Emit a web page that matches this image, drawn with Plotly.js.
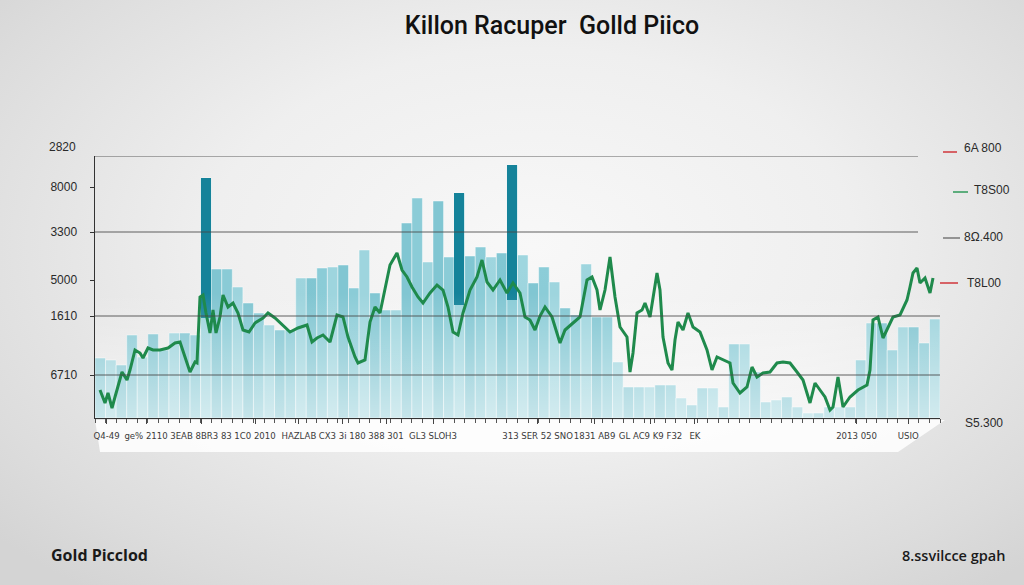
<!DOCTYPE html>
<html>
<head>
<meta charset="utf-8">
<script src="https://cdn.plot.ly/plotly-3.0.1.min.js"></script>
<style>
html,body{margin:0;padding:0;width:1024px;height:585px;overflow:hidden;
background:radial-gradient(ellipse 70% 75% at 52% 42%, #f8f8f8 0%, #efefef 45%, #dcdcdc 85%, #d4d4d4 100%);}
#chart{width:1024px;height:585px;}
</style>
</head>
<body>
<div id="chart"></div>
<script>
// ---- data ----
const barValues = [60,58,53,83,61,84,68,85,85,83,
  240,149,149,131,115,105,93,88,88,140,
  140,150,151,153,130,168,125,108,108,195,
  220,156,217,161,225,162,171,161,165,253,
  163,135,151,136,110,103,154,101,101,56,
  31,31,31,33,33,20,13,30,30,11,
  74,74,46,16,18,21,11,5,5,11,
  11,11,58,95,95,68,91,91,75,99];
const darkIdx  = [10, 34, 39];
const darkTop  = [240, 225, 253];
const darkBase = [100, 113, 118];

const lineDay = [5,10,13,17,20,27,32,35,40,45,48,53,58,65,73,80,85,90,95,100,102,105,108,111,115,118,121,125,128,133,138,143,148,154,160,168,173,180,187,195,203,212,217,222,228,235,242,248,253,260,263,270,275,280,285,290,295,302,307,312,317,323,328,335,342,348,353,358,363,368,375,382,387,392,398,405,412,418,425,430,435,440,445,450,457,465,470,478,485,492,497,502,505,510,515,520,525,532,535,538,542,547,550,555,562,565,568,573,577,580,583,588,593,598,605,612,617,622,628,635,638,645,652,657,662,668,675,682,688,695,702,708,715,720,725,730,735,738,743,748,755,763,772,775,778,783,788,793,798,805,812,815,818,822,825,830,835,838];
const linePrice = [28,15,25,10,21,46,38,48,68,65,60,70,68,68,70,75,76,61,46,56,55,121,123,105,85,108,85,101,123,111,115,105,88,86,95,100,105,100,93,86,90,93,76,80,83,76,103,101,81,61,55,58,96,111,105,128,153,165,148,141,131,121,115,125,133,128,111,86,83,105,128,141,158,136,128,138,125,135,125,101,98,88,102,111,101,75,88,95,101,138,141,128,108,128,161,121,91,81,46,65,105,108,115,101,145,128,81,55,48,78,96,88,105,91,86,68,48,61,58,55,35,25,31,51,41,45,46,55,56,55,46,38,15,35,28,21,8,11,41,11,21,28,33,48,98,101,80,91,101,103,118,131,145,150,135,140,125,140];

const yTickVals  = [231,186,138,102,43];
const yTickText  = ["8000","3300","5000","1610","6710"];
const yTopLabel  = "2820";
const gridVals   = [262,186,102,43];

const xTickVals = [0.6,4.33,9.54,14.65,18.8,22.9,27.05,31.5,41.4,46.8,52.1,56.3,71.6,76.5];
const xTickText = ["Q4-49","ge% 2110","3EAB 8BR3 83","1C0 2010","HAZLAB","CX3 3i 180","388 301","GL3 SLOH3","313 SER 52 SNO","1831 AB9","GL AC9 K9 F32","EK","2013 050","USIO"];

const rightLabels = ["6A 800","T8S00","8\u03A9.400","T8L00","S5.300"];

const titleText = "Killon Racuper  Golld Piico";
const footLeft  = "Gold Picclod";
const footRight = "8.ssvilcce gpah";

// ---- build ----
const N = barValues.length;
const idx = barValues.map((_, i) => i);
const barColors = idx.map(i => (i % 3 === 0) ? 'rgba(112,194,207,0.8)' : (i % 3 === 1 ? 'rgba(136,205,216,0.8)' : 'rgba(100,186,201,0.8)'));

const darkH = darkTop.map((t, k) => t - darkBase[k]);

const traces = [
  {type:'bar', x: idx, y: barValues, marker:{color: barColors, line:{color:'rgba(255,255,255,0.45)', width:1}}, hoverinfo:'skip', showlegend:false},
  {type:'bar', x: darkIdx, y: darkH, base: darkBase, width: 0.95, marker:{color:'#15839a', line:{width:0}}, hoverinfo:'skip', showlegend:false},
  {type:'scatter', mode:'lines', x:[-0.5, N-0.5], y:[125,125], fill:'tozeroy', line:{width:0},
   fillgradient:{type:'vertical', colorscale:[[0,'rgba(255,255,255,0.55)'],[1,'rgba(255,255,255,0)']], start:0, stop:125},
   hoverinfo:'skip', showlegend:false},
  {type:'scatter', mode:'lines', x: lineDay, y: linePrice, xaxis:'x2', line:{color:'#1f8a4c', width:3, shape:'linear'}, hoverinfo:'skip', showlegend:false}
];

const L = 95, R = 940, T = 156, B = 418;
const W = R - L, H = B - T;
const px = x => (x - L) / W;
const py = y => (B - y) / H;

const annotations = [
  {text: yTopLabel, xref:'paper', yref:'paper', x: px(78), y: py(147), xanchor:'right', yanchor:'middle', showarrow:false, font:{family:'Liberation Sans', size:12, color:'#2a2a2a'}},
  {text: footLeft, xref:'paper', yref:'paper', x: px(49), y: py(555), xanchor:'left', yanchor:'middle', showarrow:false, font:{family:'Open Sans', size:16, color:'#1a1a1a', weight:700}},
  {text: footRight, xref:'paper', yref:'paper', x: px(1007), y: py(555), xanchor:'right', yanchor:'middle', showarrow:false, font:{family:'Open Sans', size:14.5, color:'#1a1a1a', weight:600}}
];
const rightPos = [[962,148],[972,190],[962,237],[965,283],[963,423]];
rightLabels.forEach((t, k) => {
  annotations.push({text:t, xref:'paper', yref:'paper', x: px(rightPos[k][0]), y: py(rightPos[k][1]), xanchor:'left', yanchor:'middle', showarrow:false, font:{family:'Liberation Sans', size:12, color:'#2a2a2a'}});
});

const shapes = [
  {type:'path', xref:'paper', yref:'paper', layer:'below',
   path:`M ${px(95)},${py(420)} L ${px(945)},${py(420)} L ${px(898)},${py(452)} L ${px(100)},${py(452)} Z`,
   fillcolor:'rgba(255,255,255,0.85)', line:{width:0}},
  {type:'line', xref:'paper', yref:'paper', x0:px(943), x1:px(957), y0:py(152), y1:py(152), line:{color:'#d0363b', width:1.5}},
  {type:'line', xref:'paper', yref:'paper', x0:px(953), x1:px(968), y0:py(192), y1:py(192), line:{color:'#2f9a5a', width:1.5}},
  {type:'line', xref:'paper', yref:'paper', x0:px(943), x1:px(960), y0:py(238), y1:py(238), line:{color:'#777', width:1.5}},
  {type:'line', xref:'paper', yref:'paper', x0:px(940), x1:px(958), y0:py(283), y1:py(283), line:{color:'#d0363b', width:1.5}}
];
// horizontal gridlines drawn over the bars (top two stop short of the right edge)
const gridEnds = [px(918), px(918), 1, 1];
gridVals.forEach((v, k) => {
  shapes.push({type:'line', xref:'paper', yref:'y', layer:'above', x0:0, x1:gridEnds[k], y0:v, y1:v, line:{color:'rgba(70,70,70,0.85)', width:1.2}});
});

const layout = {
  width:1024, height:585,
  paper_bgcolor:'rgba(0,0,0,0)', plot_bgcolor:'rgba(0,0,0,0)',
  margin:{l:L, r:1024-R, t:T, b:585-B, pad:0},
  title:{text:titleText, x:552/1024, xref:'container', y:1-25/585, yref:'container', xanchor:'center', yanchor:'middle',
         font:{family:'Roboto', size:25, color:'#111', weight:500}},
  barmode:'overlay', bargap:0,
  xaxis:{range:[-0.5, N-0.5], showgrid:false, zeroline:false, showline:true, linecolor:'#333', linewidth:1.2,
         tickmode:'array', tickvals:xTickVals, ticktext:xTickText, tickangle:0, ticks:'outside', ticklen:5, tickcolor:'#444',
         tickfont:{family:'DejaVu Sans Condensed', size:9.5, color:'#3a3a3a'}, ticklabelstandoff:3,
         minor:{ticks:'outside', dtick:1, tick0:-0.5, ticklen:4, tickcolor:'#555', showgrid:false}},
  xaxis2:{range:[0, W], overlaying:'x', visible:false},
  yaxis:{range:[0, H], showgrid:false, zeroline:false, showline:true, linecolor:'#333', linewidth:1.5,
         tickmode:'array', tickvals:yTickVals, ticktext:yTickText, ticks:'outside', ticklen:4, tickcolor:'#333',
         tickfont:{family:'Liberation Sans', size:12, color:'#2a2a2a'}, ticklabelstandoff:10},
  annotations, shapes,
  showlegend:false
};

Plotly.newPlot('chart', traces, layout, {staticPlot:true, displayModeBar:false});
</script>
</body>
</html>
